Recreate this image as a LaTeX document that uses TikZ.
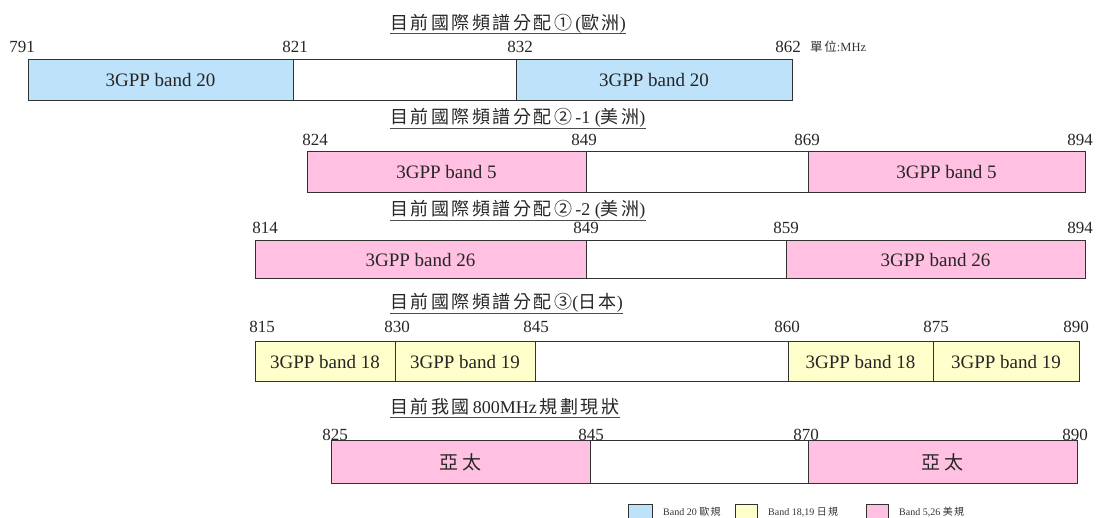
\documentclass[tikz,border=0pt]{standalone}
\usepackage{fontspec}
\setmainfont{Liberation Serif}
\newfontfamily\cjk{Noto Sans CJK TC}
\newfontfamily\cjkw[LetterSpace=14]{Noto Sans CJK TC}
\definecolor{bandblue}{RGB}{190,226,250}
\definecolor{bandpink}{RGB}{255,192,225}
\definecolor{bandyellow}{RGB}{255,255,204}
\definecolor{edge}{RGB}{50,50,50}
\begin{document}
\begin{tikzpicture}[x=1pt,y=-1pt,
  seg/.style={draw=edge,line width=1pt},
  lbl/.style={font=\fontsize{19}{21}\selectfont,text=black!85},
  num/.style={font=\fontsize{17}{19}\selectfont,text=black!85,inner sep=0pt},
  ttl/.style={font=\fontsize{18}{20}\selectfont,anchor=west,inner sep=0pt,text=black!85},
  uline/.style={draw=black!70,line width=0.9pt},
  leg/.style={font=\fontsize{10}{12}\selectfont,anchor=west,inner sep=0pt,text=black!80}]
\useasboundingbox (0,0) rectangle (1096,518);
\clip (0,0) rectangle (1096,518);
% ---------- Row 1
\node[ttl] (t1) at (390,24) {{\cjkw 目前國際頻譜分配①}\,({\cjkw 歐洲})};
\draw[uline] (t1.west |- 0,33) -- (t1.east |- 0,33);
\path[seg,fill=bandblue] (28,60) rectangle (293,101) node[pos=.5,lbl] (r1a) {3GPP band 20};
\path[seg,fill=white] (293,60) rectangle (516,101) node[pos=.5] (r1b) {};
\path[seg,fill=bandblue] (516,60) rectangle (792,101) node[pos=.5,lbl] (r1c) {3GPP band 20};
\node[num] (n11) at (22,47) {791};
\node[num] (n12) at (295,47) {821};
\node[num] (n13) at (520,47) {832};
\node[num] (n14) at (788,47) {862};
\node[leg,font=\fontsize{12.5}{14}\selectfont] (unit) at (810,47) {{\cjkw 單位}:MHz};
% ---------- Row 2
\node[ttl] (t2) at (390,118) {{\cjkw 目前國際頻譜分配②}\,-1 ({\cjkw 美洲})};
\draw[uline] (t2.west |- 0,128) -- (t2.east |- 0,128);
\path[seg,fill=bandpink] (307,152) rectangle (586,193) node[pos=.5,lbl] (r2a) {3GPP band 5};
\path[seg,fill=white] (586,152) rectangle (808,193) node[pos=.5] (r2b) {};
\path[seg,fill=bandpink] (808,152) rectangle (1085,193) node[pos=.5,lbl] (r2c) {3GPP band 5};
\node[num] (n21) at (315,140) {824};
\node[num] (n22) at (584,140) {849};
\node[num] (n23) at (807,140) {869};
\node[num] (n24) at (1080,140) {894};
% ---------- Row 3
\node[ttl] (t3) at (390,210) {{\cjkw 目前國際頻譜分配②}\,-2 ({\cjkw 美洲})};
\draw[uline] (t3.west |- 0,220) -- (t3.east |- 0,220);
\path[seg,fill=bandpink] (255,241) rectangle (586,279) node[pos=.5,lbl] (r3a) {3GPP band 26};
\path[seg,fill=white] (586,241) rectangle (786,279) node[pos=.5] (r3b) {};
\path[seg,fill=bandpink] (786,241) rectangle (1085,279) node[pos=.5,lbl] (r3c) {3GPP band 26};
\node[num] (n31) at (265,228) {814};
\node[num] (n32) at (586,228) {849};
\node[num] (n33) at (786,228) {859};
\node[num] (n34) at (1080,228) {894};
% ---------- Row 4
\node[ttl] (t4) at (390,303) {{\cjkw 目前國際頻譜分配③}({\cjkw 日本})};
\draw[uline] (t4.west |- 0,313) -- (t4.east |- 0,313);
\path[seg,fill=bandyellow] (255,342) rectangle (395,382) node[pos=.5,lbl] (r4a) {3GPP band 18};
\path[seg,fill=bandyellow] (395,342) rectangle (535,382) node[pos=.5,lbl] (r4b) {3GPP band 19};
\path[seg,fill=white] (535,342) rectangle (788,382) node[pos=.5] (r4c) {};
\path[seg,fill=bandyellow] (788,342) rectangle (933,382) node[pos=.5,lbl] (r4d) {3GPP band 18};
\path[seg,fill=bandyellow] (933,342) rectangle (1079,382) node[pos=.5,lbl] (r4e) {3GPP band 19};
\node[num] (n41) at (262,327) {815};
\node[num] (n42) at (397,327) {830};
\node[num] (n43) at (536,327) {845};
\node[num] (n44) at (787,327) {860};
\node[num] (n45) at (936,327) {875};
\node[num] (n46) at (1076,327) {890};
% ---------- Row 5
\node[ttl] (t5) at (390,407) {{\cjkw 目前我國}\,800MHz\,{\cjkw 規劃現狀}};
\draw[uline] (t5.west |- 0,417) -- (t5.east |- 0,417);
\path[seg,fill=bandpink] (331,441) rectangle (590,484) node[pos=.5,lbl] (r5a) {\cjk 亞\,太};
\path[seg,fill=white] (590,441) rectangle (808,484) node[pos=.5] (r5b) {};
\path[seg,fill=bandpink] (808,441) rectangle (1077,484) node[pos=.5,lbl] (r5c) {\cjk 亞\,太};
\node[num] (n51) at (335,435) {825};
\node[num] (n52) at (591,435) {845};
\node[num] (n53) at (806,435) {870};
\node[num] (n54) at (1075,435) {890};
% ---------- Legend
\path[seg,fill=bandblue] (628,505) rectangle (652,522) node[pos=.5] (lg1) {};
\node[leg] (lt1) at (663,512) {Band 20 {\cjkw 歐規}};
\path[seg,fill=bandyellow] (735,505) rectangle (757,522) node[pos=.5] (lg2) {};
\node[leg] (lt2) at (768,512) {Band 18,19 {\cjkw 日規}};
\path[seg,fill=bandpink] (866,505) rectangle (888,522) node[pos=.5] (lg3) {};
\node[leg] (lt3) at (899,512) {Band 5,26 {\cjkw 美規}};
\end{tikzpicture}
\end{document}
